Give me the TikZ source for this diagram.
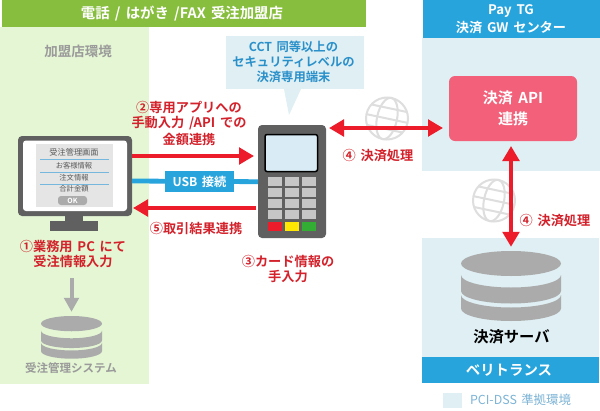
\documentclass[tikz,border=0pt]{standalone}
\usepackage{fontspec}
\setmainfont{Noto Sans CJK JP}[BoldFont={Noto Sans CJK JP Bold},WordSpace=1.6]
\usetikzlibrary{arrows.meta}
\definecolor{hdrgreen}{HTML}{88BE3E}
\definecolor{palegreen}{HTML}{E4F6D4}
\definecolor{hdrblue}{HTML}{28A4DD}
\definecolor{paleblue}{HTML}{DFEFF3}
\definecolor{txtblue}{HTML}{2A90CA}
\definecolor{lblred}{HTML}{D3222B}
\definecolor{arrred}{HTML}{EC1C2A}
\definecolor{pinkbox}{HTML}{F2607A}
\definecolor{devgray}{HTML}{606060}
\definecolor{dbgray}{HTML}{ABABAB}
\definecolor{lblgray}{HTML}{9A9A9A}
\definecolor{globegray}{HTML}{DEDEDE}
\definecolor{keygray}{HTML}{C6C6C6}
\definecolor{screenblue}{HTML}{D9ECF6}
\definecolor{legendtxt}{HTML}{7DB4D6}
\newcommand{\fs}[1]{\fontsize{#1pt}{#1pt}\selectfont}
\newcommand{\dbicon}[3]{% cx, top y, scale
  \fill[dbgray] ({#1},{#2+12.5*#3}) ellipse [x radius={50pt*#3}, y radius={12.5pt*#3}];
  \fill[dbgray] ({#1-50*#3},{#2+24*#3}) arc [start angle=180,end angle=360,x radius={50pt*#3},y radius={12.5pt*#3}]
     -- ({#1+50*#3},{#2+40*#3}) arc [start angle=0,end angle=-180,x radius={50pt*#3},y radius={12.5pt*#3}] -- cycle;
  \fill[dbgray] ({#1-50*#3},{#2+44*#3}) arc [start angle=180,end angle=360,x radius={50pt*#3},y radius={12.5pt*#3}]
     -- ({#1+50*#3},{#2+57.5*#3}) arc [start angle=0,end angle=-180,x radius={50pt*#3},y radius={12.5pt*#3}] -- cycle;
}
\newcommand{\globeicon}[2]{%
  \begin{scope}[shift={(#1,#2)},rotate=-12,globegray,line width=2pt]
    \draw (0,0) circle [radius=21pt];
    \draw (0,0) ellipse [x radius=10pt, y radius=21pt];
    \draw (-21,0) -- (21,0);
    \draw (-18,-10.5) -- (18,-10.5);
    \draw (-18,10.5) -- (18,10.5);
  \end{scope}
}
\tikzset{
  x=1pt,y=-1pt,
  hdrtext/.style={text=white,font=\bfseries\fs{14.4},align=center,inner sep=0pt},
  redlabel/.style={text=lblred,font=\bfseries\fs{13.2},align=center,inner sep=0pt},
  bluelabel/.style={text=txtblue,font=\bfseries\fs{12.3},align=center,inner sep=0pt},
  graylabel/.style={text=lblgray,font=\bfseries,align=center,inner sep=0pt},
  scrtext/.style={text=black!65,font=\fs{7.3},inner sep=0pt},
  redflow/.style={draw=arrred,line width=4.8pt,-{Triangle[length=15pt,width=16.5pt]}},
  redboth/.style={draw=arrred,line width=4.2pt,{Triangle[length=15pt,width=16.5pt]}-{Triangle[length=15pt,width=16.5pt]}},
  usbline/.style={draw=hdrblue,line width=4.8pt},
  devbox/.style={fill=devgray,rounded corners=4pt,inner sep=0pt,outer sep=0pt},
  key/.style={fill=keygray},
}
\begin{document}
\begin{tikzpicture}
\useasboundingbox (0,0) rectangle (600,410);
\fill[white] (0,0) rectangle (600,410);
% backgrounds
\fill[palegreen] (0,27) rectangle (149,384);
\fill[hdrgreen] (2,0) rectangle (366,26.5);
\fill[paleblue] (422,38) rectangle (600,171);
\fill[hdrblue] (423,0) rectangle (600,38);
\fill[paleblue] (422,238) rectangle (599,357);
\fill[hdrblue] (422,357) rectangle (599,383);
\fill[paleblue] (443,393) rectangle (462,408);
% headers
\node[hdrtext] (hdrshop) at (182,13.5) {電話 / はがき /FAX 受注加盟店};
\node[hdrtext,font=\bfseries\fs{13.2},text=white,align=center] (hdrpay) at (511,19) {Pay TG\\[2.8pt]決済 GW センター};
\node[graylabel,font=\bfseries\fs{13.5}] (envlabel) at (78,51) {加盟店環境};
% callout
\fill[paleblue] (226,36) rectangle (364,89);
\fill[paleblue] (284,89) -- (289,115) -- (301,89) -- cycle;
\node[bluelabel] (cct) at (293.5,62) {CCT 同等以上の\\[2.7pt]セキュリティレベルの\\[2.7pt]決済専用端末};
% globes
\globeicon{387}{118.5}
\globeicon{494}{200.5}
% PC
\fill[devgray] (65,214) rectangle (83,222);
\fill[devgray] (50,221) rectangle (98,231);
\node[devbox,minimum width=114pt,minimum height=80pt] (pc) at (75,176) {};
\fill[white,rounded corners=3pt] (23,140.5) rectangle (127,211);
\fill[black!10] (36,144) rectangle (113,207);
\foreach \ly in {159,172,184} \draw[txtblue!65,line width=0.8pt] (40,\ly) -- (109,\ly);
\node[scrtext,font=\fs{8.2}] (s1) at (74,152) {受注管理画面};
\node[scrtext] (s2) at (74,166) {お客様情報};
\node[scrtext] (s3) at (74,178) {注文情報};
\node[scrtext] (s4) at (74,189) {合計金額};
\node[fill=black!33,rounded corners=3pt,minimum width=29pt,minimum height=9pt,inner sep=0pt,text=white,font=\bfseries\fs{7}] (okbtn) at (72.5,200.5) {OK};
% terminal
\node[devbox,minimum width=68pt,minimum height=113pt] (term) at (292,181.5) {};
\fill[screenblue,draw=black,line width=1.5pt,rounded corners=2pt] (265,134.5) rectangle (317.5,171.5);
\foreach \ky in {177,188,199,210}
  \foreach \kx in {268,285,302} \fill[key] (\kx,\ky) rectangle ++(13.7,9);
\fill[arrred] (268,222) rectangle ++(13.7,9);
\fill[yellow!90!orange] (285,222) rectangle ++(13.7,9);
\fill[green!60!black!80!white] (302,222) rectangle ++(13.7,9);
% connectors
\draw[redflow,shorten >=4pt] ([yshift=20pt]pc.east) -- ([yshift=25.5pt]term.west);
\draw[usbline] ([yshift=-5pt]pc.east) -- ([yshift=-0.2pt]term.west);
\node[fill=hdrblue,minimum width=69pt,minimum height=21pt,inner sep=0pt,text=white,font=\bfseries\fs{12.2}] (usb) at (199.5,181.5) {USB 接続};
\draw[redflow,line width=4.2pt,shorten <=2pt,shorten >=1pt] ([yshift=-26.5pt]term.west) -- ([yshift=-32pt]pc.east);
% API box
\node[fill=pinkbox,rounded corners=6pt,minimum width=128pt,minimum height=65pt,inner sep=0pt,outer sep=0pt,
  text=white,font=\bfseries\fs{15},align=center] (api) at (513,108.5) {決済 API\\[6pt]連携};
\draw[redboth,shorten <=3pt,shorten >=6pt] ([yshift=53.5pt]term.east) -- ([yshift=-19.5pt]api.west);
% servers
\dbicon{511}{251}{1}
\node[inner sep=0pt,minimum width=100pt,minimum height=70pt] (srv) at (511,286) {};
\draw[redboth,shorten <=5pt,shorten >=4pt] ([xshift=-2pt]api.south) -- (srv.north);
\dbicon{71.5}{316}{0.61}
\node[inner sep=0pt,minimum width=61pt,minimum height=41pt] (sdb) at (71.5,336.5) {};
% labels
\node[redlabel] (l2) at (189,123.5) {②専用アプリへの\\[2.3pt]手動入力 /API での\\[2.3pt]金額連携};
\node[redlabel] (l5) at (196,228) {⑤取引結果連携};
\node[redlabel] (l1) at (73,254) {①業務用 PC にて\\[2.5pt]受注情報入力};
\node[redlabel] (l3) at (288,268.5) {③カード情報の\\[1.8pt]手入力};
\node[redlabel] (l4a) at (378,156) {④ 決済処理};
\node[redlabel] (l4b) at (555,221) {④ 決済処理};
\coordinate (grayfrom) at (71.5,278);
\draw[draw=dbgray,line width=4pt,-{Triangle[length=14pt,width=14.5pt]},shorten >=4pt] (grayfrom) -- (sdb.north);
\node[graylabel,font=\bfseries\fs{11.5}] (sdblabel) at (71,368) {受注管理システム};
\node[text=black,font=\bfseries\fs{15.3},inner sep=0pt] (srvlabel) at (511.5,337) {決済サーバ};
\node[hdrtext] (vt) at (509,370) {ベリトランス};
\node[text=legendtxt,font=\fs{12.4},inner sep=0pt] (legend) at (520.5,400) {PCI-DSS 準拠環境};
\end{tikzpicture}
\end{document}
